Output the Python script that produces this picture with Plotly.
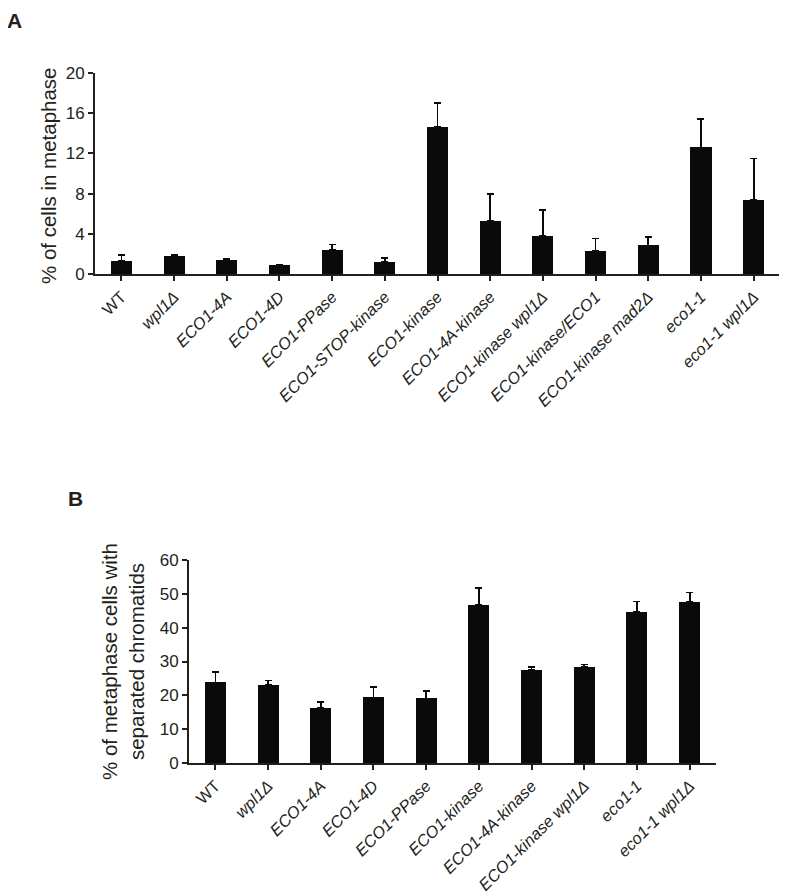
import plotly.graph_objects as go

# Page has an 8px body margin, so the figure is placed at (8, 8) in the window.
OFF = 8
W, H = 787 - OFF, 894 - OFF

# ---------------- Data ----------------
a_labels = ["WT", "<i>wpl1Δ</i>", "<i>ECO1-4A</i>", "<i>ECO1-4D</i>", "<i>ECO1-PPase</i>",
            "<i>ECO1-STOP-kinase</i>", "<i>ECO1-kinase</i>", "<i>ECO1-4A-kinase</i>",
            "<i>ECO1-kinase wpl1Δ</i>", "<i>ECO1-kinase/ECO1</i>", "<i>ECO1-kinase mad2Δ</i>",
            "<i>eco1-1</i>", "<i>eco1-1 wpl1Δ</i>"]
a_values = [1.3, 1.8, 1.35, 0.9, 2.4, 1.2, 14.6, 5.3, 3.8, 2.3, 2.85, 12.6, 7.4]
a_errors = [0.6, 0.12, 0.15, 0.06, 0.55, 0.4, 2.4, 2.65, 2.55, 1.23, 0.86, 2.8, 4.1]

b_labels = ["WT", "<i>wpl1Δ</i>", "<i>ECO1-4A</i>", "<i>ECO1-4D</i>", "<i>ECO1-PPase</i>",
            "<i>ECO1-kinase</i>", "<i>ECO1-4A-kinase</i>", "<i>ECO1-kinase wpl1Δ</i>",
            "<i>eco1-1</i>", "<i>eco1-1 wpl1Δ</i>"]
b_values = [23.8, 23.2, 16.2, 19.4, 19.1, 46.6, 27.6, 28.5, 44.6, 47.6]
b_errors = [3.1, 1.2, 1.9, 3.1, 2.2, 5.2, 0.8, 0.6, 3.1, 2.8]

a_ticks = [0, 4, 8, 12, 16, 20]
b_ticks = [0, 10, 20, 30, 40, 50, 60]

FONT = "Arial, Liberation Sans, sans-serif"
TXT = "#231f20"
BAR = "#0a0a0a"

fig = go.Figure()

def bar(x, y, err, xa, ya):
    return go.Bar(
        x=list(range(len(x))), y=y, width=0.4, marker=dict(color=BAR, line=dict(width=0)),
        error_y=dict(type="data", symmetric=False, array=err, arrayminus=[0] * len(err),
                     color=BAR, thickness=1.7, width=3.5),
        xaxis=xa, yaxis=ya, showlegend=False, hoverinfo="skip")

fig.add_trace(bar(a_labels, a_values, a_errors, "x", "y"))
fig.add_trace(bar(b_labels, b_values, b_errors, "x2", "y2"))

def px_x(p):
    return (p - OFF) / W

def px_y(p):
    return 1 - (p - OFF) / H

axis_common = dict(showline=True, linecolor="#231f20", linewidth=1.7, ticks="outside",
                   ticklen=5, tickwidth=1.7, tickcolor="#231f20", showgrid=False,
                   zeroline=False, automargin=False,
                   tickfont=dict(family=FONT, size=17, color=TXT))
xfont = dict(family=FONT, size=16.5, color=TXT)

fig.update_layout(
    template="none",
    width=W, height=H, margin=dict(l=0, r=0, t=0, b=0, autoexpand=False),
    paper_bgcolor="white", plot_bgcolor="white", bargap=0,
    xaxis=dict(domain=[px_x(95), px_x(780)], anchor="y", range=[-0.5, 12.5],
               tickmode="array", tickvals=list(range(len(a_labels))), ticktext=a_labels,
               tickson="boundaries", tickangle=-45,
               **{**axis_common, "tickfont": xfont}),
    yaxis=dict(domain=[px_y(274), px_y(73)], anchor="x", range=[0, 20],
               tickmode="array", tickvals=a_ticks, **axis_common),
    xaxis2=dict(domain=[px_x(189), px_x(716)], anchor="y2", range=[-0.5, 9.5],
                tickmode="array", tickvals=list(range(len(b_labels))), ticktext=b_labels,
                tickson="boundaries", tickangle=-45,
                **{**axis_common, "tickfont": xfont}),
    yaxis2=dict(domain=[px_y(763), px_y(560)], anchor="x2", range=[0, 60],
                tickmode="array", tickvals=b_ticks, **axis_common),
)

fig.add_annotation(text="<b>A</b>", x=px_x(6), y=px_y(8), xref="paper", yref="paper",
                   xanchor="left", yanchor="top", showarrow=False, borderpad=0,
                   font=dict(family=FONT, size=21, color=TXT))
fig.add_annotation(text="<b>B</b>", x=px_x(67), y=px_y(486), xref="paper", yref="paper",
                   xanchor="left", yanchor="top", showarrow=False, borderpad=0,
                   font=dict(family=FONT, size=21, color=TXT))
fig.add_annotation(text="% of cells in metaphase", x=px_x(48), y=px_y(176), xref="paper",
                   yref="paper", xanchor="center", yanchor="middle", textangle=-90,
                   showarrow=False, font=dict(family=FONT, size=20.5, color=TXT))
fig.add_annotation(text="% of metaphase cells with<br>separated chromatids", x=px_x(123),
                   y=px_y(662), xref="paper", yref="paper", xanchor="center",
                   yanchor="middle", textangle=-90, showarrow=False,
                   font=dict(family=FONT, size=20.5, color=TXT))

fig.write_html("out.html")
